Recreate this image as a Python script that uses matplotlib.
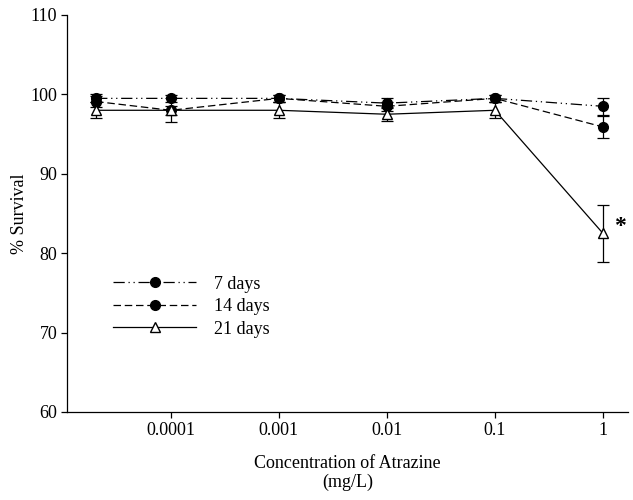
import matplotlib
matplotlib.use("Agg")
import matplotlib.pyplot as plt
from matplotlib.lines import Line2D

plt.rcParams['font.family'] = ['Liberation Serif', 'DejaVu Serif']

conc_labels = ["Control", "0.0001", "0.001", "0.01", "0.1", "1"]
tick_labels = ["0.0001", "0.001", "0.01", "0.1", "1"]
x_pos = [-0.69, 0, 1, 2, 3, 4]

days7 = [99.5, 99.5, 99.5, 98.9, 99.5, 98.5]
days7_err = [0.5, 0.4, 0.4, 0.6, 0.4, 1.1]
days14 = [99.1, 98.0, 99.5, 98.5, 99.5, 95.9]
days14_err = [0.7, 0.6, 0.4, 0.6, 0.4, 1.4]
days21 = [98.0, 98.0, 98.0, 97.5, 98.0, 82.5]
days21_err = [1.0, 1.5, 1.0, 0.9, 1.0, 3.6]

fig = plt.figure(figsize=(6.33, 5.0), dpi=100)
ax = fig.add_axes([0.1058, 0.176, 0.886, 0.794])

ls7 = (0, (9, 3, 1, 3, 1, 3))
ls14 = (0, (6, 3))
common = dict(color='black', lw=0.9, capsize=4, elinewidth=0.9, capthick=0.9, ms=7)
ax.errorbar(x_pos, days7, yerr=days7_err, fmt='o', linestyle=ls7,
            mfc='black', mec='black', zorder=3, **common)
ax.errorbar(x_pos, days14, yerr=days14_err, fmt='o', linestyle=ls14,
            mfc='black', mec='black', zorder=3, **common)
ax.errorbar(x_pos, days21, yerr=days21_err, fmt='^', linestyle='-',
            mfc='white', mec='black', zorder=4, **common)

ax.text(4.16, 83.3, '*', fontsize=17, fontweight='bold', ha='center', va='center')

ax.set_xlim(-0.96, 4.23)
ax.set_ylim(60, 110)
ax.set_xticks(range(5))
ax.set_xticklabels(tick_labels)
ax.set_yticks(range(60, 111, 10))
ax.tick_params(direction='out', length=4, width=0.9, labelsize=13, colors='black', pad=3)
for s in ['top', 'right']:
    ax.spines[s].set_visible(False)
for s in ['left', 'bottom']:
    ax.spines[s].set_linewidth(0.9)

ax.set_ylabel('% Survival', fontsize=13, labelpad=2)
ax.set_xlabel('Concentration of Atrazine\n(mg/L)', fontsize=13, labelpad=12, linespacing=1.1)

handles = [
    Line2D([], [], color='black', lw=0.9, linestyle=ls7, marker='o', ms=7, mfc='black', mec='black'),
    Line2D([], [], color='black', lw=0.9, linestyle=ls14, marker='o', ms=7, mfc='black', mec='black'),
    Line2D([], [], color='black', lw=0.9, linestyle='-', marker='^', ms=7, mfc='white', mec='black'),
]
ax.legend(handles, ['7 days', '14 days', '21 days'], loc='upper left',
          bbox_to_anchor=(0.06, 0.375), frameon=False, fontsize=13,
          handlelength=4.6, handletextpad=1.0, labelspacing=0.3, borderpad=0.2)

fig.savefig('out.png', dpi=100)
